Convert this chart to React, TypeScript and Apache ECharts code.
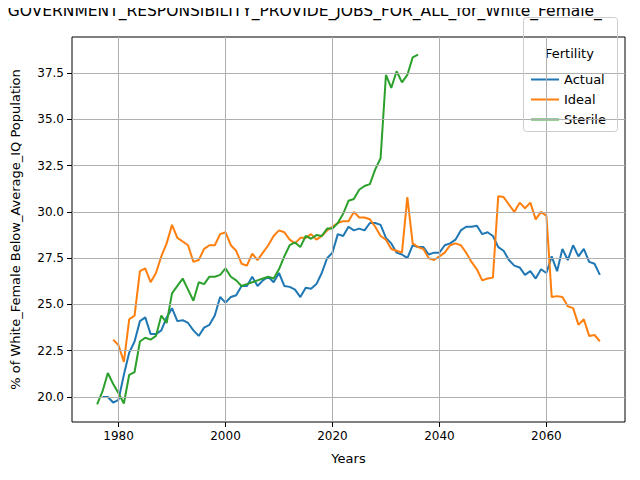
import * as echarts from "echarts";
import { useEffect, useRef } from "react";

const actualStart = 1977;
const actual = [
  20.0, 20.0, 19.7, 19.85, 21.2, 22.4, 23.0, 24.1, 24.3, 23.4,
  23.4, 23.6, 24.3, 24.8, 24.1, 24.15, 24.0, 23.6, 23.3, 23.75,
  23.9, 24.4, 25.4, 25.1, 25.4, 25.5, 26.0, 26.0, 26.5, 26.0,
  26.3, 26.5, 26.2, 26.7, 26.0, 25.95, 25.8, 25.4, 25.9, 25.85,
  26.1, 26.7, 27.5, 27.8, 28.8, 28.7, 29.2, 29.0, 29.1, 29.0,
  29.4, 29.4, 29.3, 28.6, 28.3, 27.8, 27.7, 27.5, 28.2, 28.1,
  28.1, 27.7, 27.8, 27.8, 28.2, 28.3, 28.5, 29.0, 29.2, 29.2,
  29.25, 28.8, 28.9, 28.7, 28.1, 27.9, 27.4, 27.1, 27.0, 26.6,
  26.8, 26.4, 26.9, 26.7, 27.6, 26.8, 28.0, 27.4, 28.2, 27.6,
  28.0, 27.3, 27.2, 26.6,
];

const idealStart = 1979;
const ideal = [
  23.1, 22.8, 21.9, 24.2, 24.4, 26.8, 26.95, 26.2, 26.7, 27.6,
  28.3, 29.3, 28.6, 28.4, 28.2, 27.3, 27.4, 28.0, 28.2, 28.2,
  28.8, 28.9, 28.2, 27.9, 27.2, 27.1, 27.75, 27.4, 27.8, 28.2,
  28.7, 29.0, 28.9, 28.5, 28.3, 28.6, 28.6, 28.8, 28.5, 28.7,
  29.0, 29.2, 29.4, 29.5, 29.5, 30.0, 29.7, 29.7, 29.6, 29.2,
  28.7, 28.5, 28.0, 27.9, 27.8, 30.8, 28.3, 28.1, 28.0, 27.5,
  27.4, 27.6, 27.8, 28.2, 28.3, 28.2, 27.8, 27.3, 26.9, 26.3,
  26.4, 26.45, 30.85, 30.8, 30.4, 30.0, 30.5, 30.2, 30.5, 29.6,
  30.0, 29.8, 25.4, 25.45, 25.4, 24.9, 24.8, 23.9, 24.2, 23.3,
  23.35, 23.0,
];

const sterileStart = 1976;
const sterile = [
  19.6, 20.3, 21.3, 20.7, 20.2, 19.65, 21.2, 21.35, 23.0, 23.2,
  23.1, 23.3, 24.4, 24.0, 25.6, 26.0, 26.4, 25.8, 25.2, 26.2,
  26.1, 26.5, 26.5, 26.6, 26.95, 26.5, 26.3, 26.0, 26.1, 26.2,
  26.3, 26.4, 26.5, 26.4, 26.9, 27.6, 28.2, 28.35, 28.1, 28.7,
  28.55, 28.75, 28.7, 29.1, 29.1, 29.4, 29.9, 30.6, 30.7, 31.2,
  31.4, 31.5, 32.3, 32.9, 37.4, 36.7, 37.6, 37.0, 37.4, 38.35,
  38.5,
];

const xTicks = [1980, 2000, 2020, 2040, 2060];
const yTicks = [20.0, 22.5, 25.0, 27.5, 30.0, 32.5, 35.0, 37.5];

const toPairs = (start: number, vals: number[]) => vals.map((v, i) => [start + i, v]);

const font = "DejaVu Sans";

export default function App() {
  const ref = useRef<HTMLDivElement>(null);

  useEffect(() => {
    const chart = echarts.init(ref.current, null, { renderer: "svg" });
    const line = (name: string, color: string, data: number[][]) => ({
      name,
      type: "line",
      data,
      showSymbol: false,
      symbol: "none",
      lineStyle: { width: 2, color },
      itemStyle: { color },
      z: 3,
    });
    const gridLine = { color: "#b0b0b0", width: 1, type: "solid" };
    chart.setOption({
      animation: false,
      textStyle: { fontFamily: font },
      grid: {
        left: 72, right: 15, top: 37, bottom: 58,
        show: true, borderColor: "#000", borderWidth: 1,
      },
      xAxis: {
        type: "value",
        min: 1971.3,
        max: 2074.7,
        name: "Years",
        nameLocation: "middle",
        nameGap: 30,
        nameTextStyle: { fontSize: 13, color: "#000", fontFamily: font },
        axisLine: { show: false },
        splitLine: { show: false },
        axisTick: { customValues: xTicks, length: 5, lineStyle: { color: "#000" } },
        axisLabel: {
          customValues: xTicks, fontSize: 12, color: "#000", fontFamily: font,
          formatter: (v: number) => String(v),
        },
      },
      yAxis: {
        type: "value",
        min: 18.65,
        max: 39.45,
        name: "% of White_Female Below_Average_IQ Population",
        nameLocation: "middle",
        nameGap: 50,
        nameTextStyle: { fontSize: 13, color: "#000", fontFamily: font },
        axisLine: { show: false },
        splitLine: { show: false },
        axisTick: { customValues: yTicks, length: 5, lineStyle: { color: "#000" } },
        axisLabel: {
          customValues: yTicks, fontSize: 12, color: "#000", fontFamily: font,
          formatter: (v: number) => v.toFixed(1),
        },
      },
      legend: {
        orient: "vertical",
        left: 526,
        top: 68,
        itemWidth: 28,
        itemHeight: 12,
        itemGap: 7,
        icon: "path://M0,5 L28,5 L28,7 L0,7 Z",
        textStyle: { fontSize: 13, color: "#000", fontFamily: font },
        data: ["Actual", "Ideal", "Sterile"],
      },
      graphic: [
        {
          type: "text", left: 0, top: 3,
          style: {
            text: "_GOVERNMENT_RESPONSIBILITY_PROVIDE_JOBS_FOR_ALL_for_White_Female_",
            fontSize: 15.5, fill: "#000", fontFamily: font,
          },
        },
        {
          type: "rect", left: 523, top: 17, z: 10, silent: true,
          shape: { width: 94, height: 114, r: 3 },
          style: { fill: "rgba(255,255,255,0)", stroke: "#cccccc", lineWidth: 1 },
        },
        {
          type: "text", left: 545, top: 47,
          style: { text: "Fertility", fontSize: 13, fill: "#000", fontFamily: font },
        },
      ],
      series: [
        {
          type: "line", data: [], silent: true,
          markLine: {
            silent: true, symbol: "none", label: { show: false },
            lineStyle: gridLine, animation: false,
            data: [
              ...xTicks.map((x) => ({ xAxis: x })),
              ...yTicks.map((y) => ({ yAxis: y })),
            ],
          },
        },
        line("Actual", "#1f77b4", toPairs(actualStart, actual)),
        line("Ideal", "#ff7f0e", toPairs(idealStart, ideal)),
        line("Sterile", "#2ca02c", toPairs(sterileStart, sterile)),
      ],
    });
    return () => chart.dispose();
  }, []);

  return <div ref={ref} style={{ width: 640, height: 480, margin: -8, background: "#fff" }} />;
}
